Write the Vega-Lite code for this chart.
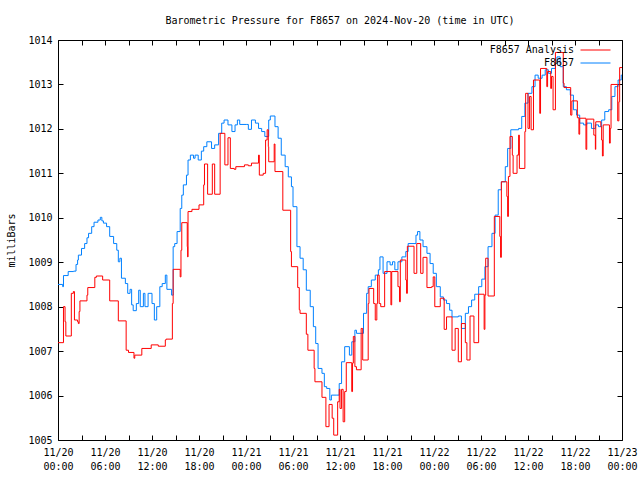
{
  "$schema": "https://vega.github.io/schema/vega-lite/v6.json",
  "width": 564,
  "height": 400,
  "autosize": {"type": "none"},
  "padding": {"left": 58, "top": 40, "right": 18, "bottom": 40},
  "background": "white",
  "title": {"text": "Barometric Pressure for F8657 on 2024-Nov-20 (time in UTC)", "font": "DejaVu Sans Mono", "fontSize": 10, "fontWeight": "normal", "color": "black", "anchor": "middle", "offset": 9},
  "config": {
    "view": {"stroke": "black", "strokeWidth": 1},
    "font": "DejaVu Sans Mono",
    "axis": {"domain": false, "grid": false, "labelFont": "DejaVu Sans Mono", "labelFontSize": 10, "labelColor": "black", "tickColor": "black", "titleFont": "DejaVu Sans Mono", "titleFontSize": 10, "titleFontWeight": "normal", "titleColor": "black", "labelOverlap": false, "labelFlush": false, "labelBound": false},
    "legend": {"labelFont": "DejaVu Sans Mono", "labelFontSize": 10, "labelColor": "black"}
  },
  "data": {"values": [
    {"s":"F8657","h":0,"p":1008.50},{"s":"F8657","h":0.6,"p":1008.45},{"s":"F8657","h":0.7,"p":1008.70},{"s":"F8657","h":1.3,"p":1008.79},{"s":"F8657","h":2.0,"p":1008.80},{"s":"F8657","h":2.3,"p":1008.95},{"s":"F8657","h":2.5,"p":1009.05},{"s":"F8657","h":2.6,"p":1009.16},{"s":"F8657","h":3.0,"p":1009.31},{"s":"F8657","h":3.4,"p":1009.42},{"s":"F8657","h":3.7,"p":1009.55},{"s":"F8657","h":3.9,"p":1009.65},{"s":"F8657","h":4.3,"p":1009.80},{"s":"F8657","h":4.6,"p":1009.90},{"s":"F8657","h":5.1,"p":1009.95},{"s":"F8657","h":5.4,"p":1010.01},{"s":"F8657","h":5.6,"p":1009.93},{"s":"F8657","h":5.8,"p":1009.88},{"s":"F8657","h":6.2,"p":1009.80},{"s":"F8657","h":6.6,"p":1009.58},{"s":"F8657","h":7.1,"p":1009.42},{"s":"F8657","h":7.5,"p":1009.27},{"s":"F8657","h":7.7,"p":1009.01},{"s":"F8657","h":7.9,"p":1009.09},{"s":"F8657","h":8.1,"p":1008.64},{"s":"F8657","h":8.6,"p":1008.52},{"s":"F8657","h":8.9,"p":1008.30},{"s":"F8657","h":9.2,"p":1008.39},{"s":"F8657","h":9.4,"p":1008.04},{"s":"F8657","h":9.6,"p":1007.91},{"s":"F8657","h":10.0,"p":1008.07},{"s":"F8657","h":10.3,"p":1008.37},{"s":"F8657","h":10.5,"p":1008.00},{"s":"F8657","h":10.9,"p":1008.30},{"s":"F8657","h":11.1,"p":1008.00},{"s":"F8657","h":11.5,"p":1008.30},{"s":"F8657","h":12.0,"p":1008.07},{"s":"F8657","h":12.3,"p":1007.70},{"s":"F8657","h":12.6,"p":1008.00},{"s":"F8657","h":13.0,"p":1008.45},{"s":"F8657","h":13.3,"p":1008.52},{"s":"F8657","h":13.7,"p":1008.71},{"s":"F8657","h":13.9,"p":1008.39},{"s":"F8657","h":14.5,"p":1008.26},{"s":"F8657","h":14.7,"p":1009.35},{"s":"F8657","h":14.9,"p":1009.42},{"s":"F8657","h":15.2,"p":1009.69},{"s":"F8657","h":15.6,"p":1010.21},{"s":"F8657","h":15.8,"p":1010.51},{"s":"F8657","h":16.0,"p":1010.74},{"s":"F8657","h":16.4,"p":1010.96},{"s":"F8657","h":16.6,"p":1011.30},{"s":"F8657","h":16.9,"p":1011.41},{"s":"F8657","h":17.3,"p":1011.34},{"s":"F8657","h":17.5,"p":1011.41},{"s":"F8657","h":17.9,"p":1011.30},{"s":"F8657","h":18.3,"p":1011.50},{"s":"F8657","h":18.6,"p":1011.60},{"s":"F8657","h":19.0,"p":1011.71},{"s":"F8657","h":19.6,"p":1011.56},{"s":"F8657","h":20.0,"p":1011.64},{"s":"F8657","h":20.5,"p":1011.90},{"s":"F8657","h":20.9,"p":1012.13},{"s":"F8657","h":21.2,"p":1012.20},{"s":"F8657","h":21.7,"p":1012.09},{"s":"F8657","h":22.2,"p":1011.94},{"s":"F8657","h":22.6,"p":1012.09},{"s":"F8657","h":22.9,"p":1012.20},{"s":"F8657","h":23.2,"p":1012.10},{"s":"F8657","h":24.1,"p":1012.10},{"s":"F8657","h":24.3,"p":1011.99},{"s":"F8657","h":24.7,"p":1012.20},{"s":"F8657","h":25.2,"p":1012.13},{"s":"F8657","h":25.6,"p":1012.01},{"s":"F8657","h":26.0,"p":1011.94},{"s":"F8657","h":26.4,"p":1011.83},{"s":"F8657","h":26.9,"p":1012.20},{"s":"F8657","h":27.1,"p":1012.29},{"s":"F8657","h":27.7,"p":1012.05},{"s":"F8657","h":28.1,"p":1011.79},{"s":"F8657","h":28.5,"p":1011.41},{"s":"F8657","h":29.0,"p":1011.15},{"s":"F8657","h":29.4,"p":1010.92},{"s":"F8657","h":29.8,"p":1010.70},{"s":"F8657","h":30.0,"p":1010.25},{"s":"F8657","h":30.5,"p":1009.35},{"s":"F8657","h":30.9,"p":1009.09},{"s":"F8657","h":31.3,"p":1008.83},{"s":"F8657","h":31.7,"p":1008.37},{"s":"F8657","h":32.2,"p":1008.00},{"s":"F8657","h":32.6,"p":1007.55},{"s":"F8657","h":32.9,"p":1007.17},{"s":"F8657","h":33.2,"p":1006.61},{"s":"F8657","h":33.7,"p":1006.50},{"s":"F8657","h":34.0,"p":1006.20},{"s":"F8657","h":34.3,"p":1006.16},{"s":"F8657","h":34.7,"p":1005.90},{"s":"F8657","h":34.9,"p":1006.01},{"s":"F8657","h":35.6,"p":1006.01},{"s":"F8657","h":35.9,"p":1006.27},{"s":"F8657","h":36.2,"p":1006.76},{"s":"F8657","h":36.6,"p":1007.10},{"s":"F8657","h":37.2,"p":1006.91},{"s":"F8657","h":37.5,"p":1007.21},{"s":"F8657","h":37.9,"p":1007.47},{"s":"F8657","h":38.1,"p":1007.40},{"s":"F8657","h":39.0,"p":1007.85},{"s":"F8657","h":39.4,"p":1008.30},{"s":"F8657","h":39.6,"p":1008.45},{"s":"F8657","h":40.0,"p":1008.60},{"s":"F8657","h":40.5,"p":1008.71},{"s":"F8657","h":40.9,"p":1008.83},{"s":"F8657","h":41.1,"p":1009.12},{"s":"F8657","h":41.5,"p":1008.75},{"s":"F8657","h":42.0,"p":1009.01},{"s":"F8657","h":42.4,"p":1008.94},{"s":"F8657","h":42.7,"p":1009.01},{"s":"F8657","h":43.0,"p":1008.83},{"s":"F8657","h":43.4,"p":1009.01},{"s":"F8657","h":43.9,"p":1009.12},{"s":"F8657","h":44.4,"p":1009.24},{"s":"F8657","h":44.7,"p":1009.42},{"s":"F8657","h":45.7,"p":1009.61},{"s":"F8657","h":45.9,"p":1009.69},{"s":"F8657","h":46.2,"p":1009.50},{"s":"F8657","h":46.6,"p":1009.35},{"s":"F8657","h":47.1,"p":1009.20},{"s":"F8657","h":47.5,"p":1008.97},{"s":"F8657","h":47.9,"p":1008.75},{"s":"F8657","h":48.3,"p":1008.45},{"s":"F8657","h":48.8,"p":1008.22},{"s":"F8657","h":49.2,"p":1008.15},{"s":"F8657","h":49.6,"p":1008.07},{"s":"F8657","h":50.0,"p":1007.92},{"s":"F8657","h":50.3,"p":1007.77},{"s":"F8657","h":51.1,"p":1007.79},{"s":"F8657","h":51.5,"p":1007.51},{"s":"F8657","h":52.0,"p":1007.85},{"s":"F8657","h":52.4,"p":1008.00},{"s":"F8657","h":52.8,"p":1008.15},{"s":"F8657","h":53.2,"p":1008.28},{"s":"F8657","h":53.7,"p":1008.45},{"s":"F8657","h":54.1,"p":1008.62},{"s":"F8657","h":54.5,"p":1008.90},{"s":"F8657","h":54.9,"p":1009.35},{"s":"F8657","h":55.4,"p":1009.65},{"s":"F8657","h":55.8,"p":1010.06},{"s":"F8657","h":56.2,"p":1010.63},{"s":"F8657","h":56.6,"p":1010.81},{"s":"F8657","h":57.1,"p":1011.15},{"s":"F8657","h":57.4,"p":1011.56},{"s":"F8657","h":57.8,"p":1011.98},{"s":"F8657","h":58.8,"p":1012.01},{"s":"F8657","h":59.2,"p":1012.28},{"s":"F8657","h":59.6,"p":1012.58},{"s":"F8657","h":60.0,"p":1012.80},{"s":"F8657","h":60.5,"p":1012.95},{"s":"F8657","h":60.9,"p":1013.21},{"s":"F8657","h":61.3,"p":1013.14},{"s":"F8657","h":61.8,"p":1013.21},{"s":"F8657","h":62.2,"p":1013.33},{"s":"F8657","h":62.6,"p":1013.25},{"s":"F8657","h":63.0,"p":1013.36},{"s":"F8657","h":63.5,"p":1013.47},{"s":"F8657","h":63.7,"p":1013.62},{"s":"F8657","h":64.1,"p":1013.40},{"s":"F8657","h":64.5,"p":1012.95},{"s":"F8657","h":64.9,"p":1012.88},{"s":"F8657","h":65.4,"p":1012.76},{"s":"F8657","h":65.8,"p":1012.43},{"s":"F8657","h":66.2,"p":1012.31},{"s":"F8657","h":66.6,"p":1012.13},{"s":"F8657","h":67.1,"p":1012.09},{"s":"F8657","h":67.5,"p":1012.13},{"s":"F8657","h":68.1,"p":1012.01},{"s":"F8657","h":68.6,"p":1012.09},{"s":"F8657","h":69.0,"p":1012.05},{"s":"F8657","h":69.4,"p":1012.20},{"s":"F8657","h":69.8,"p":1012.39},{"s":"F8657","h":70.3,"p":1012.43},{"s":"F8657","h":70.7,"p":1012.73},{"s":"F8657","h":71.1,"p":1012.95},{"s":"F8657","h":71.5,"p":1013.10},{"s":"F8657","h":71.9,"p":1013.21},{"s":"F8657","h":72.0,"p":1013.21},
    {"s":"F8657 Analysis","h":0,"p":1007.19},{"s":"F8657 Analysis","h":0.7,"p":1008.00},{"s":"F8657 Analysis","h":0.9,"p":1007.66},{"s":"F8657 Analysis","h":1.0,"p":1007.34},{"s":"F8657 Analysis","h":1.7,"p":1008.30},{"s":"F8657 Analysis","h":1.96,"p":1008.34},{"s":"F8657 Analysis","h":2.1,"p":1007.70},{"s":"F8657 Analysis","h":2.5,"p":1007.66},{"s":"F8657 Analysis","h":2.6,"p":1007.62},{"s":"F8657 Analysis","h":2.7,"p":1007.89},{"s":"F8657 Analysis","h":2.8,"p":1008.13},{"s":"F8657 Analysis","h":3.7,"p":1008.26},{"s":"F8657 Analysis","h":3.8,"p":1008.43},{"s":"F8657 Analysis","h":4.7,"p":1008.66},{"s":"F8657 Analysis","h":4.9,"p":1008.69},{"s":"F8657 Analysis","h":5.7,"p":1008.60},{"s":"F8657 Analysis","h":6.6,"p":1008.13},{"s":"F8657 Analysis","h":7.7,"p":1007.68},{"s":"F8657 Analysis","h":8.7,"p":1007.02},{"s":"F8657 Analysis","h":9.0,"p":1006.97},{"s":"F8657 Analysis","h":9.7,"p":1006.84},{"s":"F8657 Analysis","h":9.8,"p":1006.91},{"s":"F8657 Analysis","h":10.7,"p":1007.06},{"s":"F8657 Analysis","h":11.9,"p":1007.14},{"s":"F8657 Analysis","h":12.8,"p":1007.11},{"s":"F8657 Analysis","h":13.7,"p":1007.25},{"s":"F8657 Analysis","h":13.8,"p":1007.27},{"s":"F8657 Analysis","h":14.6,"p":1008.07},{"s":"F8657 Analysis","h":14.7,"p":1008.84},{"s":"F8657 Analysis","h":15.6,"p":1008.67},{"s":"F8657 Analysis","h":15.7,"p":1009.27},{"s":"F8657 Analysis","h":15.8,"p":1009.89},{"s":"F8657 Analysis","h":16.5,"p":1009.35},{"s":"F8657 Analysis","h":16.55,"p":1009.12},{"s":"F8657 Analysis","h":16.6,"p":1010.14},{"s":"F8657 Analysis","h":17.1,"p":1010.19},{"s":"F8657 Analysis","h":18.0,"p":1010.29},{"s":"F8657 Analysis","h":18.6,"p":1010.74},{"s":"F8657 Analysis","h":18.7,"p":1011.21},{"s":"F8657 Analysis","h":19.1,"p":1010.53},{"s":"F8657 Analysis","h":19.7,"p":1011.21},{"s":"F8657 Analysis","h":20.0,"p":1010.53},{"s":"F8657 Analysis","h":20.7,"p":1011.90},{"s":"F8657 Analysis","h":21.3,"p":1011.19},{"s":"F8657 Analysis","h":21.7,"p":1011.80},{"s":"F8657 Analysis","h":22.0,"p":1011.11},{"s":"F8657 Analysis","h":22.5,"p":1011.09},{"s":"F8657 Analysis","h":22.7,"p":1011.15},{"s":"F8657 Analysis","h":23.8,"p":1011.19},{"s":"F8657 Analysis","h":24.3,"p":1011.17},{"s":"F8657 Analysis","h":24.7,"p":1011.23},{"s":"F8657 Analysis","h":25.6,"p":1011.41},{"s":"F8657 Analysis","h":25.7,"p":1010.96},{"s":"F8657 Analysis","h":26.2,"p":1011.00},{"s":"F8657 Analysis","h":26.5,"p":1011.75},{"s":"F8657 Analysis","h":26.7,"p":1011.98},{"s":"F8657 Analysis","h":26.85,"p":1011.60},{"s":"F8657 Analysis","h":26.9,"p":1011.26},{"s":"F8657 Analysis","h":27.6,"p":1011.66},{"s":"F8657 Analysis","h":27.7,"p":1011.04},{"s":"F8657 Analysis","h":28.7,"p":1010.17},{"s":"F8657 Analysis","h":29.7,"p":1009.24},{"s":"F8657 Analysis","h":29.8,"p":1008.90},{"s":"F8657 Analysis","h":30.6,"p":1008.43},{"s":"F8657 Analysis","h":30.8,"p":1007.93},{"s":"F8657 Analysis","h":30.9,"p":1007.85},{"s":"F8657 Analysis","h":31.7,"p":1007.38},{"s":"F8657 Analysis","h":31.9,"p":1007.02},{"s":"F8657 Analysis","h":32.7,"p":1006.61},{"s":"F8657 Analysis","h":32.8,"p":1006.31},{"s":"F8657 Analysis","h":33.7,"p":1005.96},{"s":"F8657 Analysis","h":34.2,"p":1005.30},{"s":"F8657 Analysis","h":34.6,"p":1005.80},{"s":"F8657 Analysis","h":35.0,"p":1005.49},{"s":"F8657 Analysis","h":35.2,"p":1005.11},{"s":"F8657 Analysis","h":35.7,"p":1005.86},{"s":"F8657 Analysis","h":35.9,"p":1006.14},{"s":"F8657 Analysis","h":36.0,"p":1005.71},{"s":"F8657 Analysis","h":36.2,"p":1006.14},{"s":"F8657 Analysis","h":36.4,"p":1005.41},{"s":"F8657 Analysis","h":36.6,"p":1006.09},{"s":"F8657 Analysis","h":36.8,"p":1006.74},{"s":"F8657 Analysis","h":37.5,"p":1006.09},{"s":"F8657 Analysis","h":37.6,"p":1006.73},{"s":"F8657 Analysis","h":37.7,"p":1007.33},{"s":"F8657 Analysis","h":37.9,"p":1006.65},{"s":"F8657 Analysis","h":38.1,"p":1006.58},{"s":"F8657 Analysis","h":38.7,"p":1007.51},{"s":"F8657 Analysis","h":38.9,"p":1006.80},{"s":"F8657 Analysis","h":39.6,"p":1008.07},{"s":"F8657 Analysis","h":39.7,"p":1008.41},{"s":"F8657 Analysis","h":40.3,"p":1008.07},{"s":"F8657 Analysis","h":40.5,"p":1007.70},{"s":"F8657 Analysis","h":40.7,"p":1008.07},{"s":"F8657 Analysis","h":40.8,"p":1008.71},{"s":"F8657 Analysis","h":41.0,"p":1008.07},{"s":"F8657 Analysis","h":41.2,"p":1008.00},{"s":"F8657 Analysis","h":41.7,"p":1008.79},{"s":"F8657 Analysis","h":42.5,"p":1008.04},{"s":"F8657 Analysis","h":42.6,"p":1008.79},{"s":"F8657 Analysis","h":43.4,"p":1008.45},{"s":"F8657 Analysis","h":43.6,"p":1008.11},{"s":"F8657 Analysis","h":43.7,"p":1009.05},{"s":"F8657 Analysis","h":44.4,"p":1008.60},{"s":"F8657 Analysis","h":44.5,"p":1008.30},{"s":"F8657 Analysis","h":44.6,"p":1009.36},{"s":"F8657 Analysis","h":45.45,"p":1008.75},{"s":"F8657 Analysis","h":45.8,"p":1009.42},{"s":"F8657 Analysis","h":46.3,"p":1008.75},{"s":"F8657 Analysis","h":46.6,"p":1009.11},{"s":"F8657 Analysis","h":47.1,"p":1008.43},{"s":"F8657 Analysis","h":47.7,"p":1008.45},{"s":"F8657 Analysis","h":47.9,"p":1008.67},{"s":"F8657 Analysis","h":48.1,"p":1008.00},{"s":"F8657 Analysis","h":48.8,"p":1008.19},{"s":"F8657 Analysis","h":49.3,"p":1007.49},{"s":"F8657 Analysis","h":49.6,"p":1007.77},{"s":"F8657 Analysis","h":50.3,"p":1007.02},{"s":"F8657 Analysis","h":50.7,"p":1007.51},{"s":"F8657 Analysis","h":51.1,"p":1006.76},{"s":"F8657 Analysis","h":51.5,"p":1007.62},{"s":"F8657 Analysis","h":52.0,"p":1007.19},{"s":"F8657 Analysis","h":52.2,"p":1006.80},{"s":"F8657 Analysis","h":52.6,"p":1007.79},{"s":"F8657 Analysis","h":53.1,"p":1007.19},{"s":"F8657 Analysis","h":53.7,"p":1008.28},{"s":"F8657 Analysis","h":54.4,"p":1007.49},{"s":"F8657 Analysis","h":54.5,"p":1008.26},{"s":"F8657 Analysis","h":54.6,"p":1009.09},{"s":"F8657 Analysis","h":54.9,"p":1008.24},{"s":"F8657 Analysis","h":55.7,"p":1010.03},{"s":"F8657 Analysis","h":56.4,"p":1009.58},{"s":"F8657 Analysis","h":56.5,"p":1009.11},{"s":"F8657 Analysis","h":56.6,"p":1010.81},{"s":"F8657 Analysis","h":57.3,"p":1010.48},{"s":"F8657 Analysis","h":57.4,"p":1010.03},{"s":"F8657 Analysis","h":57.5,"p":1010.93},{"s":"F8657 Analysis","h":57.7,"p":1011.83},{"s":"F8657 Analysis","h":58.0,"p":1011.41},{"s":"F8657 Analysis","h":58.1,"p":1011.00},{"s":"F8657 Analysis","h":58.6,"p":1011.41},{"s":"F8657 Analysis","h":58.8,"p":1011.86},{"s":"F8657 Analysis","h":58.9,"p":1011.11},{"s":"F8657 Analysis","h":59.6,"p":1011.94},{"s":"F8657 Analysis","h":59.7,"p":1012.80},{"s":"F8657 Analysis","h":60.0,"p":1012.01},{"s":"F8657 Analysis","h":60.2,"p":1012.73},{"s":"F8657 Analysis","h":60.4,"p":1011.98},{"s":"F8657 Analysis","h":60.7,"p":1013.10},{"s":"F8657 Analysis","h":61.5,"p":1012.35},{"s":"F8657 Analysis","h":61.6,"p":1013.36},{"s":"F8657 Analysis","h":62.4,"p":1012.95},{"s":"F8657 Analysis","h":62.5,"p":1013.29},{"s":"F8657 Analysis","h":62.9,"p":1012.91},{"s":"F8657 Analysis","h":63.0,"p":1013.18},{"s":"F8657 Analysis","h":63.2,"p":1012.43},{"s":"F8657 Analysis","h":63.5,"p":1013.72},{"s":"F8657 Analysis","h":64.5,"p":1013.03},{"s":"F8657 Analysis","h":64.6,"p":1012.93},{"s":"F8657 Analysis","h":65.45,"p":1012.31},{"s":"F8657 Analysis","h":65.6,"p":1012.63},{"s":"F8657 Analysis","h":66.3,"p":1012.25},{"s":"F8657 Analysis","h":66.5,"p":1011.88},{"s":"F8657 Analysis","h":66.6,"p":1012.24},{"s":"F8657 Analysis","h":67.4,"p":1011.54},{"s":"F8657 Analysis","h":67.5,"p":1012.22},{"s":"F8657 Analysis","h":68.4,"p":1011.86},{"s":"F8657 Analysis","h":68.6,"p":1011.54},{"s":"F8657 Analysis","h":68.65,"p":1012.16},{"s":"F8657 Analysis","h":69.3,"p":1012.05},{"s":"F8657 Analysis","h":69.4,"p":1011.75},{"s":"F8657 Analysis","h":69.5,"p":1011.39},{"s":"F8657 Analysis","h":69.6,"p":1012.09},{"s":"F8657 Analysis","h":70.4,"p":1011.68},{"s":"F8657 Analysis","h":70.5,"p":1012.01},{"s":"F8657 Analysis","h":70.6,"p":1013.00},{"s":"F8657 Analysis","h":71.45,"p":1012.18},{"s":"F8657 Analysis","h":71.6,"p":1012.61},{"s":"F8657 Analysis","h":71.7,"p":1013.38},{"s":"F8657 Analysis","h":72.0,"p":1013.38}
  ]},
  "resolve": {"axis": {"x": "independent", "y": "independent"}},
  "layer": [
    {
      "transform": [{"filter": "datum.s == 'F8657'"}],
      "mark": {"type": "line", "interpolate": "step-after", "strokeWidth": 1, "clip": true},
      "encoding": {
        "x": {"field": "h", "type": "quantitative", "scale": {"domain": [0, 72], "nice": false, "zero": false},
          "axis": {"orient": "bottom", "title": null, "values": [0,3,6,9,12,15,18,21,24,27,30,33,36,39,42,45,48,51,54,57,60,63,66,69,72], "tickSize": -5, "labelPadding": 12, "labelLineHeight": 14, "labelBaseline": "top",
            "labelExpr": "datum.value % 6 == 0 ? ['11/' + (20 + floor(datum.value / 24)), (datum.value % 24 < 10 ? '0' : '') + (datum.value % 24) + ':00'] : ''"}},
        "y": {"field": "p", "type": "quantitative", "scale": {"domain": [1005, 1014], "nice": false, "zero": false},
          "axis": {"orient": "left", "title": "milliBars", "format": "d", "values": [1005,1006,1007,1008,1009,1010,1011,1012,1013,1014], "tickSize": -5, "labelPadding": 11, "titlePadding": 11}},
        "color": {"field": "s", "type": "nominal", "scale": {"domain": ["F8657 Analysis", "F8657"], "range": ["#ff0000", "#0080ff"]},
          "legend": {"title": null, "orient": "none", "legendX": 532, "legendY": 4.5, "padding": 0, "symbolType": "M-3,0H3", "symbolSize": 100, "symbolStrokeWidth": 1, "symbolFillColor": "transparent", "labelAlign": "right", "labelOffset": -27, "rowPadding": 2}}
      }
    },
    {
      "transform": [{"filter": "datum.s == 'F8657 Analysis'"}],
      "mark": {"type": "line", "interpolate": "step-after", "strokeWidth": 1, "clip": true},
      "encoding": {
        "x": {"field": "h", "type": "quantitative",
          "axis": {"orient": "top", "title": null, "values": [0,3,6,9,12,15,18,21,24,27,30,33,36,39,42,45,48,51,54,57,60,63,66,69,72], "tickSize": -5, "labels": false}},
        "y": {"field": "p", "type": "quantitative",
          "axis": {"orient": "right", "title": null, "values": [1005,1006,1007,1008,1009,1010,1011,1012,1013,1014], "tickSize": -5, "labels": false}},
        "color": {"field": "s", "type": "nominal"}
      }
    }
  ]
}
